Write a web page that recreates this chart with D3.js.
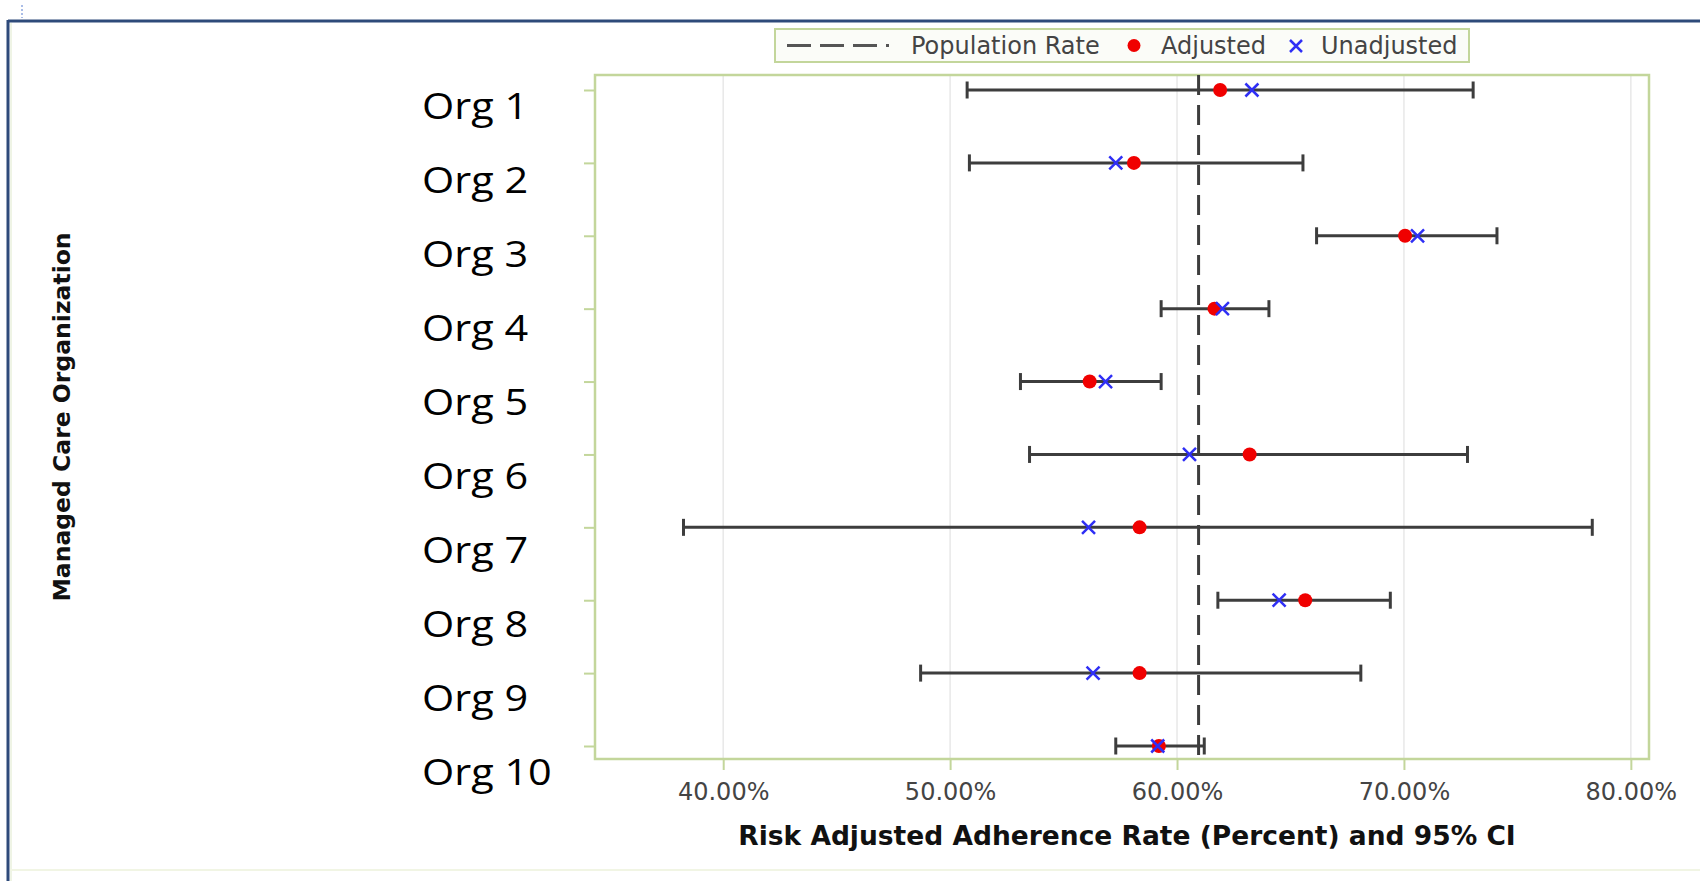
<!DOCTYPE html>
<html>
<head>
<meta charset="utf-8">
<script src="https://cdn.jsdelivr.net/npm/d3@7"></script>
<style>
  body { margin: 0; background: #fff; }
  svg { display: block; }
</style>
</head>
<body>
<svg id="chart" width="1700" height="881"></svg>
<script>
var orgs = ['Org 1', 'Org 2', 'Org 3', 'Org 4', 'Org 5', 'Org 6', 'Org 7', 'Org 8', 'Org 9', 'Org 10'];
var adjusted = [61.9, 58.1, 70.05, 61.65, 56.15, 63.2, 58.35, 65.65, 58.35, 59.2];
var unadjusted = [63.3, 57.3, 70.6, 62.0, 56.85, 60.55, 56.1, 64.5, 56.3, 59.15];
var ciLower = [50.75, 50.85, 66.15, 59.3, 53.1, 53.5, 38.25, 61.8, 48.7, 57.3];
var ciUpper = [73.05, 65.55, 74.1, 64.05, 59.3, 72.8, 78.3, 69.4, 68.1, 61.2];
var populationRate = 60.95;
var xTicks = [40, 50, 60, 70, 80];

var rows = orgs.map(function(o, i) {
  return { org: o, adj: adjusted[i], unadj: unadjusted[i], lo: ciLower[i], hi: ciUpper[i] };
});

var svg = d3.select('#chart');
var green = '#c3d69b';
var barColor = '#3d3d3d';

// plot frame (note: "top" is taken by window.top)
var plotLeft = 595, plotRight = 1649, plotTop = 75, plotBottom = 759;

var x = d3.scaleLinear()
  .domain([34.35, 80.8])
  .range([plotLeft, plotRight]);

var y = d3.scalePoint()
  .domain(orgs)
  .range([90, 746]);

// pasted labels sit a little lower than the ticks
var yLabel = d3.scalePoint()
  .domain(orgs)
  .range([119, 785]);

// outer page frame
svg.append('line')
  .attr('x1', 8).attr('y1', 21).attr('x2', 1700).attr('y2', 21)
  .attr('stroke', '#2e4a7a').attr('stroke-width', 3);
svg.append('line')
  .attr('x1', 8).attr('y1', 20).attr('x2', 8).attr('y2', 881)
  .attr('stroke', '#2e4a7a').attr('stroke-width', 3);
svg.append('line')
  .attr('x1', 11).attr('y1', 23).attr('x2', 11).attr('y2', 881)
  .attr('stroke', '#dfe9cc').attr('stroke-width', 1);
svg.append('line')
  .attr('x1', 22).attr('y1', 5).attr('x2', 22).attr('y2', 18)
  .attr('stroke', '#8fa8e0').attr('stroke-width', 1.5)
  .attr('stroke-dasharray', '2,2');
svg.append('line')
  .attr('x1', 10).attr('y1', 870).attr('x2', 1700).attr('y2', 870)
  .attr('stroke', '#f1f5e4').attr('stroke-width', 2);

// gridlines
svg.append('g')
  .selectAll('line')
  .data(xTicks)
  .enter()
  .append('line')
    .attr('x1', function(d) { return x(d); })
    .attr('x2', function(d) { return x(d); })
    .attr('y1', plotTop)
    .attr('y2', plotBottom)
    .attr('stroke', '#e8e8e8')
    .attr('stroke-width', 1.5);

// x axis
var axisX = d3.axisBottom(x)
  .tickValues(xTicks)
  .tickSize(11)
  .tickPadding(13)
  .tickFormat(function(d) { return d3.format('.2f')(d) + '%'; });

var gx = svg.append('g')
  .attr('transform', 'translate(0,' + plotBottom + ')')
  .call(axisX);
gx.select('.domain').remove();
gx.selectAll('.tick line').attr('stroke', green).attr('stroke-width', 2);
gx.selectAll('.tick text')
  .attr('fill', '#444')
  .style('font-family', 'DejaVu Sans')
  .style('font-size', '24px');

// y axis ticks
var axisY = d3.axisLeft(y)
  .tickSize(11)
  .tickFormat('');

var gy = svg.append('g')
  .attr('transform', 'translate(' + plotLeft + ',0)')
  .call(axisY);
gy.select('.domain').remove();
gy.selectAll('.tick line').attr('stroke', green).attr('stroke-width', 2);

// frame
svg.append('rect')
  .attr('x', plotLeft)
  .attr('y', plotTop)
  .attr('width', plotRight - plotLeft)
  .attr('height', plotBottom - plotTop)
  .attr('fill', 'none')
  .attr('stroke', green)
  .attr('stroke-width', 2.5);

// org labels (pasted text, a bit wider than Open Sans)
var labelStretch = 1.12;
svg.append('g')
  .attr('transform', 'scale(' + labelStretch + ',1)')
  .selectAll('text')
  .data(orgs)
  .enter()
  .append('text')
    .attr('x', 422 / labelStretch)
    .attr('y', function(d) { return yLabel(d); })
    .text(function(d) { return d; })
    .attr('fill', '#000')
    .style('font-family', 'Open Sans')
    .style('font-size', '37px');

// population rate line
svg.append('line')
  .attr('x1', x(populationRate))
  .attr('x2', x(populationRate))
  .attr('y1', plotTop)
  .attr('y2', plotBottom)
  .attr('stroke', barColor)
  .attr('stroke-width', 3)
  .attr('stroke-dasharray', '20,10');

// CI bars
var bars = svg.append('g')
  .selectAll('g')
  .data(rows)
  .enter()
  .append('g');

bars.append('line')
  .attr('x1', function(d) { return x(d.lo); })
  .attr('x2', function(d) { return x(d.hi); })
  .attr('y1', function(d) { return y(d.org); })
  .attr('y2', function(d) { return y(d.org); })
  .attr('stroke', barColor)
  .attr('stroke-width', 3);

bars.append('line')
  .attr('x1', function(d) { return x(d.lo); })
  .attr('x2', function(d) { return x(d.lo); })
  .attr('y1', function(d) { return y(d.org) - 8.5; })
  .attr('y2', function(d) { return y(d.org) + 8.5; })
  .attr('stroke', barColor)
  .attr('stroke-width', 3);

bars.append('line')
  .attr('x1', function(d) { return x(d.hi); })
  .attr('x2', function(d) { return x(d.hi); })
  .attr('y1', function(d) { return y(d.org) - 8.5; })
  .attr('y2', function(d) { return y(d.org) + 8.5; })
  .attr('stroke', barColor)
  .attr('stroke-width', 3);

// adjusted dots
bars.append('circle')
  .attr('cx', function(d) { return x(d.adj); })
  .attr('cy', function(d) { return y(d.org); })
  .attr('r', 7)
  .attr('fill', '#f00000');

// unadjusted crosses
var cross = 6.5;
bars.append('path')
  .attr('d', function(d) {
    var cx = x(d.unadj), cy = y(d.org);
    return 'M' + (cx - cross) + ',' + (cy - cross) + 'L' + (cx + cross) + ',' + (cy + cross) +
      'M' + (cx - cross) + ',' + (cy + cross) + 'L' + (cx + cross) + ',' + (cy - cross);
  })
  .attr('stroke', '#2f2ff5')
  .attr('stroke-width', 2.5)
  .attr('fill', 'none');

// axis titles
svg.append('text')
  .attr('x', (plotLeft + plotRight) / 2 + 5)
  .attr('y', 845)
  .attr('text-anchor', 'middle')
  .attr('fill', '#111')
  .style('font-family', 'DejaVu Sans')
  .style('font-weight', 'bold')
  .style('font-size', '26.5px')
  .text('Risk Adjusted Adherence Rate (Percent) and 95% CI');

svg.append('text')
  .attr('transform', 'translate(70,' + ((plotTop + plotBottom) / 2) + ') rotate(-90)')
  .attr('text-anchor', 'middle')
  .attr('fill', '#111')
  .style('font-family', 'DejaVu Sans')
  .style('font-weight', 'bold')
  .style('font-size', '23.5px')
  .text('Managed Care Organization');

// legend
var legend = svg.append('g');
legend.append('rect')
  .attr('x', 775)
  .attr('y', 29)
  .attr('width', 694)
  .attr('height', 33)
  .attr('fill', '#fbfcf8')
  .attr('stroke', green)
  .attr('stroke-width', 2);

legend.append('line')
  .attr('x1', 787).attr('x2', 893)
  .attr('y1', 45.5).attr('y2', 45.5)
  .attr('stroke', '#555')
  .attr('stroke-width', 3)
  .attr('stroke-dasharray', '24,9,24,9,24,9,3,20');

legend.append('circle')
  .attr('cx', 1134).attr('cy', 45.5).attr('r', 6.5)
  .attr('fill', '#f00000');

legend.append('path')
  .attr('d', 'M1290,40L1302,52M1290,52L1302,40')
  .attr('stroke', '#2f2ff5')
  .attr('stroke-width', 2.5);

var legendText = [['Population Rate', 911], ['Adjusted', 1161], ['Unadjusted', 1321]];
legend.selectAll('text')
  .data(legendText)
  .enter()
  .append('text')
    .attr('x', function(d) { return d[1]; })
    .attr('y', 54)
    .attr('fill', '#444')
    .style('font-family', 'DejaVu Sans')
    .style('font-size', '24px')
    .text(function(d) { return d[0]; });
</script>
</body>
</html>
